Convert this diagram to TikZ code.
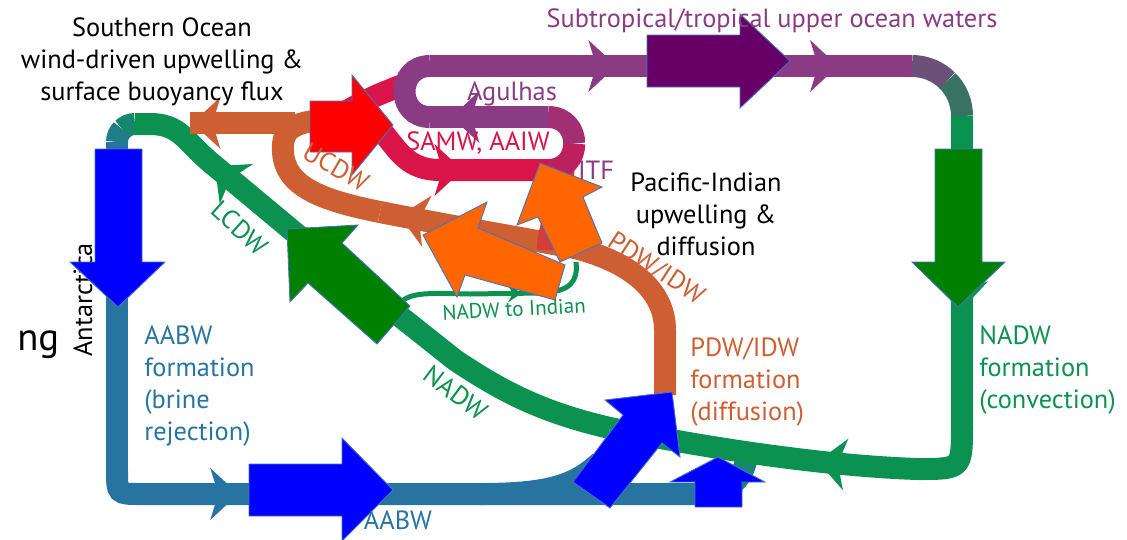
\documentclass[tikz,border=0pt]{standalone}
\usepackage{fontspec}
\setmainfont{PT Sans}
\usetikzlibrary{decorations.markings}

\definecolor{aabw}{RGB}{40,116,160}
\definecolor{nadw}{RGB}{11,145,80}
\definecolor{cdw}{RGB}{205,95,51}
\definecolor{samw}{RGB}{216,20,72}
\definecolor{upper}{RGB}{139,58,132}
\definecolor{darkpurple}{RGB}{102,0,102}
\definecolor{blockgreen}{RGB}{0,128,0}
\definecolor{blockorange}{RGB}{255,102,0}
\definecolor{edge}{RGB}{68,114,196}

\begin{document}
\begin{tikzpicture}[x=0.02cm, y=-0.02cm,
    band/.style={line width=0.44cm},
    barb/.style={postaction={decorate, decoration={markings,
        mark=at position #1 with {\fill (8,0) -- (-20,-26) -- (-12,0) -- (-20,26) -- cycle;}}}},
    tinybarb/.style={postaction={decorate, decoration={markings,
        mark=at position #1 with {\fill (5,0) -- (-9,-9) -- (-4,0) -- (-9,9) -- cycle;}}}},
    block/.style={draw=edge, line width=0.5pt},
    lbl/.style={inner sep=0pt, font=\fontsize{15}{18.2}\selectfont}]

\useasboundingbox (0,0) rectangle (1127,539);

\node[lbl, rotate=90, anchor=base west] (ant) at (92,357) {Antarctica};
\node[lbl, font=\fontsize{22}{26}\selectfont, anchor=base west] (ng) at (17,350) {ng};

% AABW
\draw[band, aabw, barb=0.48] (117,142) -- (117,470);
\draw[band, aabw, barb=0.22] (117,470) .. controls (117,494) .. (141,494) -- (700,494);
\draw[band, aabw] (480,494) .. controls (550,494) and (575,485) .. (600,462);
\draw[band, aabw!45!nadw] (698,494) .. controls (738,494) and (745,470) .. (748,452);
\draw[band, nadw!65!aabw] (135,124) .. controls (130.2,124) and (125.7,125.9) .. (122.3,129.3);
\draw[band, nadw!30!aabw] (122.3,129.3) .. controls (118.9,132.7) and (117,137.2) .. (117,142);

% NADW
\draw[band, nadw, barb=0.6] (962,116) -- (962,425);
\draw[band, nadw, barb=0.44] (962,425) .. controls (962,469) .. (918,469)
    .. controls (820,466) and (690,445) .. (610,428);
\draw[band, nadw] (610,428) .. controls (540,412) and (500,390) .. (455,360) -- (300,237);
\draw[band, nadw, barb=0.5] (300,237) -- (210,162) .. controls (185,141) and (180,124) .. (150,124) -- (135,124);

% UCDW and PDW/IDW
\draw[band, cdw] (665,395) -- (665,330) .. controls (665,290) and (630,262) .. (575,248);
\draw[band, cdw, barb=0.86] (575,248) .. controls (500,234) and (440,224) .. (380,212);
\draw[band, cdw] (380,212) .. controls (320,200) and (285,186) .. (283,152)
    .. controls (281,128) and (295,120) .. (335,120);
\draw[band, cdw, barb=0.9] (295,123) -- (190,123);
\draw[band, cdw!55!samw] (563,165) .. controls (566,200) and (548,220) .. (548,250);

% NADW to Indian
\draw[nadw, line width=0.1cm, tinybarb=0.6] (400,303) .. controls (410,292) and (430,293) .. (470,294)
    -- (540,293) .. controls (572,292) and (578,280) .. (576,262);

% SAMW, AAIW
\draw[band, samw] (345,112) .. controls (372,97) .. (410,82);
\draw[band, samw, barb=0.52] (372,122) .. controls (395,140) and (400,170) .. (440,170) -- (548,170);
\draw[band, samw!65!upper] (548,170) .. controls (565.5,170) and (574.25,156.75) .. (574.25,143.5);
\draw[band, samw!30!upper] (574.25,143.5) .. controls (574.25,130.25) and (565.5,117) .. (548,117);

% Agulhas, upper waters
\draw[band, upper, barb=0.75] (548,117) -- (430,117);
\draw[band, upper] (430,117) .. controls (396,117) and (396,66) .. (430,66);
\draw[band, upper, barb=0.37, barb=0.83] (430,66) -- (912,66);
\draw[band, upper!75!nadw] (912,66) .. controls (925.3,66) and (938,71.2) .. (947.4,80.6);
\draw[band, upper!35!nadw] (947.4,80.6) .. controls (956.8,90) and (962,102.7) .. (962,116);

% block arrows
\draw[block, fill=blue] (95,149) -- (142,149) -- (142,262) -- (165,262) -- (118,307) -- (70,262) -- (95,262) -- cycle;
\draw[block, fill=blockgreen] (935,149) -- (982,149) -- (982,262) -- (1005,262) -- (958,307) -- (912,262) -- (935,262) -- cycle;
\draw[block, fill=blockgreen] (410,306) -- (342,243) -- (358,225) -- (287,229) -- (290,302) -- (308,283) -- (377,344) -- cycle;
\draw[block, fill=blockorange] (565,265) -- (478,228) -- (487,202) -- (423,235) -- (457,297) -- (465,275) -- (555,300) -- cycle;
\draw[block, fill=blockorange] (602,243) -- (583,197) -- (602,187) -- (540,163) -- (517,225) -- (538,217) -- (560,262) -- cycle;
\draw[block, fill=blue] (573,482) -- (623,415) -- (605,400) -- (672,392) -- (680,457) -- (662,443) -- (610,508) -- cycle;
\draw[block, fill=blue] (695,507) -- (695,482) -- (670,482) -- (718,457) -- (765,482) -- (742,482) -- (742,507) -- cycle;
\draw[block, fill=blue] (249,464) -- (342,464) -- (342,438) -- (393,490) -- (342,541) -- (342,516) -- (249,516) -- cycle;
\draw[block, fill=red] (310,101) -- (352,101) -- (352,75) -- (393,125) -- (352,175) -- (352,152) -- (310,152) -- cycle;
\draw[block, fill=darkpurple] (647,35) -- (740,35) -- (740,14) -- (790,61) -- (740,108) -- (740,87) -- (647,87) -- cycle;

% labels
\node[lbl, align=center] (so) at (162,62) {Southern Ocean\\wind-driven upwelling \&\\surface buoyancy flux};
\node[lbl, text=upper] (stw) at (772,21) {Subtropical/tropical upper ocean waters};
\node[lbl, text=upper] (agul) at (512,94) {Agulhas};
\node[lbl, text=samw] (samwl) at (478,143) {SAMW, AAIW};
\node[lbl, text=upper] (itf) at (596,170) {ITF};
\node[lbl, align=center] (pac) at (706,214) {Pacific-Indian\\upwelling \&\\diffusion};
\node[lbl, text=cdw, rotate=-30] (ucdw) at (336,167) {UCDW};
\node[lbl, text=nadw, rotate=-42] (lcdw) at (240,228) {LCDW};
\node[lbl, text=cdw, rotate=-33] (pdw) at (656,269) {PDW/IDW};
\node[lbl, text=nadw, rotate=-37] (nadwl) at (456,393) {NADW};
\node[lbl, text=nadw, rotate=3, font=\fontsize{12}{14}\selectfont] (toind) at (514,309) {NADW to Indian};
\node[lbl, text=aabw, align=left, anchor=north west] (aabwf) at (144,325) {AABW\\formation\\(brine\\rejection)};
\node[lbl, text=cdw, align=left, anchor=north west] (pdwf) at (690,337) {PDW/IDW\\formation\\(diffusion)};
\node[lbl, text=nadw, align=left, anchor=north west] (nadwf) at (979,325) {NADW\\formation\\(convection)};
\node[lbl, text=aabw] (aabwl) at (398,520) {AABW};

\end{tikzpicture}
\end{document}
